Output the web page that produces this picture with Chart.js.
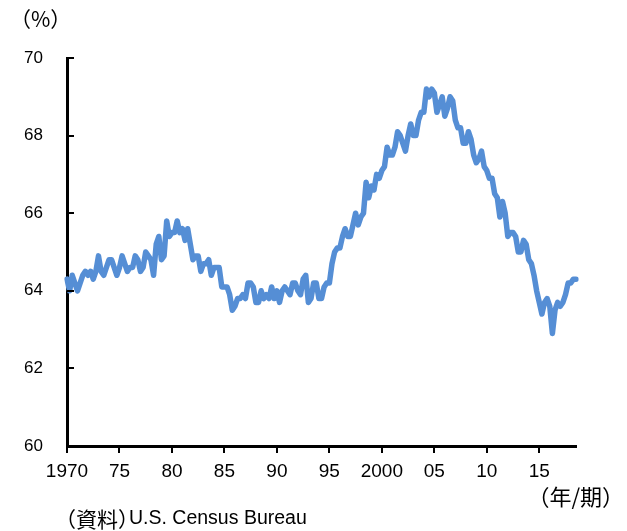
<!DOCTYPE html>
<html>
<head>
<meta charset="utf-8">
<script src="https://cdn.jsdelivr.net/npm/chart.js@4/dist/chart.umd.min.js"></script>
<style>
  html, body { margin: 0; padding: 0; background: #fff; }
  #wrap { width: 627px; height: 531px; }
</style>
</head>
<body>
<div id="wrap"><canvas id="c" width="627" height="531"></canvas></div>
<script>
// Homeownership rate (%), quarterly, 1970Q1 onward
const rate1970s = [
  64.3, 64.0, 64.4, 64.2,   // 1970
  64.0, 64.2, 64.4, 64.5,   // 1971
  64.4, 64.5, 64.3, 64.5,   // 1972
  64.9, 64.5, 64.4, 64.6,   // 1973
  64.8, 64.8, 64.6, 64.4,   // 1974
  64.6, 64.9, 64.7, 64.5,   // 1975
  64.6, 64.6, 64.9, 64.8,   // 1976
  64.5, 64.6, 65.0, 64.9,   // 1977
  64.8, 64.4, 65.2, 65.4,   // 1978
  64.8, 64.9, 65.8, 65.4    // 1979
];
const rate1980s = [
  65.5, 65.5, 65.8, 65.5,   // 1980
  65.6, 65.3, 65.6, 65.2,   // 1981
  64.8, 64.9, 64.9, 64.5,   // 1982
  64.7, 64.7, 64.8, 64.4,   // 1983
  64.6, 64.6, 64.6, 64.1,   // 1984
  64.1, 64.1, 63.9, 63.5,   // 1985
  63.6, 63.8, 63.8, 63.9,   // 1986
  63.8, 64.2, 64.2, 64.1,   // 1987
  63.7, 63.7, 64.0, 63.8,   // 1988
  63.9, 63.8, 64.1, 63.8    // 1989
];
const rate1990s = [
  64.0, 63.7, 64.0, 64.1,   // 1990
  64.0, 63.9, 64.2, 64.2,   // 1991
  64.0, 63.9, 64.3, 64.4,   // 1992
  63.7, 63.8, 64.2, 64.2,   // 1993
  63.8, 63.8, 64.1, 64.2,   // 1994
  64.2, 64.7, 65.0, 65.1,   // 1995
  65.1, 65.4, 65.6, 65.4,   // 1996
  65.4, 65.7, 66.0, 65.7,   // 1997
  65.9, 66.0, 66.8, 66.4,   // 1998
  66.7, 66.6, 67.0, 66.9    // 1999
];
const rate2000s = [
  67.1, 67.2, 67.7, 67.5,   // 2000
  67.5, 67.7, 68.1, 68.0,   // 2001
  67.8, 67.6, 68.0, 68.3,   // 2002
  68.0, 68.0, 68.4, 68.6,   // 2003
  68.6, 69.2, 69.0, 69.2,   // 2004
  69.1, 68.6, 68.8, 69.0,   // 2005
  68.5, 68.7, 69.0, 68.9,   // 2006
  68.4, 68.2, 68.2, 67.8,   // 2007
  67.8, 68.1, 67.9, 67.5,   // 2008
  67.3, 67.4, 67.6, 67.2    // 2009
];
const rate2010s = [
  67.1, 66.9, 66.9, 66.5,   // 2010
  66.4, 65.9, 66.3, 66.0,   // 2011
  65.4, 65.5, 65.5, 65.4,   // 2012
  65.0, 65.0, 65.3, 65.2,   // 2013
  64.8, 64.7, 64.4, 64.0,   // 2014
  63.7, 63.4, 63.7, 63.8,   // 2015
  63.6, 62.9, 63.5, 63.7,   // 2016
  63.6, 63.7, 63.9, 64.2,   // 2017
  64.2, 64.3, 64.3          // 2018
];

// Year labels shown on the x axis, one every five years (20 quarters)
const yearTickLabels = ['1970', '75', '80', '85', '90', '95', '2000', '05', '10', '15'];
const yTickValues = [60, 62, 64, 66, 68, 70];

const values = [].concat(rate1970s, rate1980s, rate1990s, rate2000s, rate2010s);
const quarterLabels = values.map((v, i) => (1970 + Math.floor(i / 4)) + 'Q' + (i % 4 + 1));

const LATIN_FONT = '"Liberation Sans", Arial, sans-serif';
const CJK_FONT = '"Noto Sans CJK JP", sans-serif';

// Short tick marks on the inner side of the value axis
const innerYTicks = {
  id: 'innerYTicks',
  afterDraw(chart) {
    const ctx = chart.ctx;
    const y = chart.scales.y;
    const left = chart.chartArea.left;
    ctx.save();
    ctx.strokeStyle = '#000';
    ctx.lineWidth = 2;
    yTickValues.forEach(v => {
      const py = Math.round(y.getPixelForValue(v));
      ctx.beginPath();
      ctx.moveTo(left, py);
      ctx.lineTo(left + 7, py);
      ctx.stroke();
    });
    ctx.restore();
  }
};

// Unit, period and source notes around the plot
const notes = {
  id: 'notes',
  afterDraw(chart) {
    const ctx = chart.ctx;
    ctx.save();
    ctx.fillStyle = '#000';
    ctx.textBaseline = 'middle';
    ctx.textAlign = 'left';
    ctx.font = '21px ' + CJK_FONT;
    ctx.fillText('（%）', 10, 19);

    ctx.font = '22px ' + CJK_FONT;
    ctx.textAlign = 'right';
    ctx.fillText('（年/期）', 624, 497);

    ctx.textAlign = 'left';
    ctx.font = '21px ' + CJK_FONT;
    ctx.fillText('（資料）', 55, 519);
    ctx.font = '19.5px ' + LATIN_FONT;
    ctx.fillText('U.S. Census Bureau', 129, 519);
    ctx.restore();
  }
};

new Chart(document.getElementById('c'), {
  type: 'line',
  data: {
    labels: quarterLabels,
    datasets: [{
      data: values,
      borderColor: '#558ED5',
      borderWidth: 5.5,
      borderJoinStyle: 'round',
      borderCapStyle: 'round',
      pointRadius: 0,
      tension: 0,
      fill: false
    }]
  },
  options: {
    responsive: false,
    animation: false,
    devicePixelRatio: 1,
    layout: { padding: { top: 58, right: 51, bottom: 45, left: 0 } },
    plugins: { legend: { display: false }, tooltip: { enabled: false } },
    scales: {
      x: {
        type: 'category',
        offset: false,
        afterFit(scale) { scale.height = 40; },
        grid: {
          display: true,
          drawOnChartArea: false,
          drawTicks: true,
          tickLength: 7,
          color: '#000',
          lineWidth: 2
        },
        border: { display: true, color: '#000', width: 3 },
        ticks: {
          autoSkip: false,
          maxRotation: 0,
          minRotation: 0,
          padding: 7,
          color: '#000',
          font: { family: LATIN_FONT, size: 19 },
          callback(value, index) {
            return index % 20 === 0 ? yearTickLabels[index / 20] : null;
          }
        }
      },
      y: {
        min: 60,
        max: 70,
        afterFit(scale) { scale.width = 67; },
        afterBuildTicks(scale) { scale.ticks = yTickValues.map(v => ({ value: v })); },
        grid: { display: false, drawTicks: false },
        border: { display: true, color: '#000', width: 3 },
        ticks: {
          padding: 24,
          color: '#000',
          font: { family: LATIN_FONT, size: 17 },
          callback(value) { return String(value); }
        }
      }
    }
  },
  plugins: [innerYTicks, notes]
});
</script>
</body>
</html>
